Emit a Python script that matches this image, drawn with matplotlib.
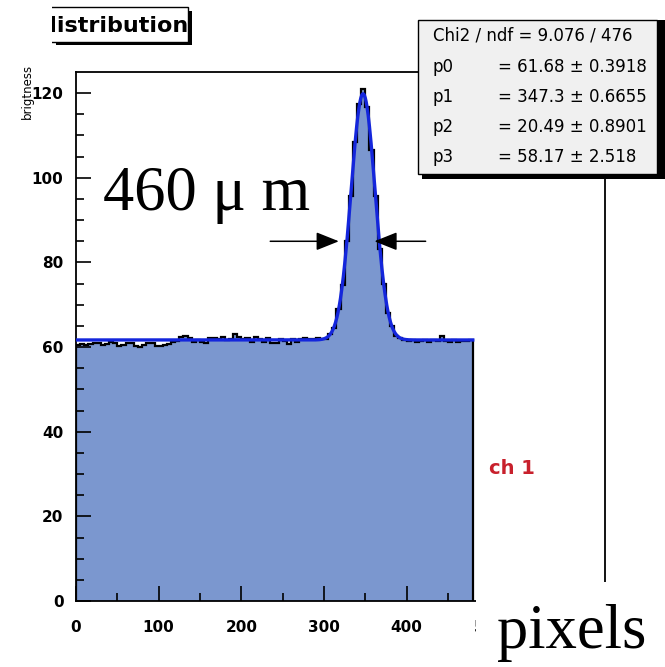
"""
ROOT-style brightness profile: histogram + flat-plus-gaussian fit, with overlay labels.
"""
import numpy as np
import matplotlib
matplotlib.use("Agg")
import matplotlib.pyplot as plt
from matplotlib.patches import Rectangle
from matplotlib.transforms import Bbox, TransformedBbox

# Canvas in pixels
W, H = 665, 667

def fx(px):
    return px / W

def fy(py):
    return 1 - py / H

# Histogram data (bin width 5, 0..480)
BIN_W = 5
hist_vals = [
    60.6, 60.8, 60.5, 60.7, 60.9, 61.0, 60.4, 60.8, 61.1, 60.9,
    60.2, 60.6, 60.9, 61.0, 60.3, 60.1, 60.4, 60.9, 61.0, 60.2,
    60.3, 60.5, 60.8, 61.1, 61.4, 62.4, 62.6, 62.2, 61.3, 61.6,
    61.2, 60.9, 62.1, 62.2, 62.0, 62.3, 61.7, 62.0, 63.1, 62.3,
    61.9, 62.2, 61.3, 62.3, 62.0, 61.2, 62.1, 61.0, 60.9, 62.0,
    61.4, 60.8, 62.0, 61.1, 61.9, 62.1, 62.0, 61.9, 62.2, 61.8,
    62.0, 63.2, 64.6, 69.1, 74.6, 85.0, 95.8, 108.4, 117.5, 121.0,
    116.8, 106.6, 95.6, 83.2, 74.9, 68.0, 64.9, 62.7, 62.2, 61.6,
    61.4, 61.6, 61.2, 61.5, 61.7, 61.3, 61.6, 61.4, 62.6, 61.5,
    61.3, 61.6, 61.2, 61.5, 61.4, 61.6,
]
edges = np.arange(len(hist_vals) + 1) * BIN_W

# Fit parameters from the stats box
fit_par = [61.68, 347.3, 20.49, 58.17]
fit_err = [0.3918, 0.6655, 0.8901, 2.518]
chi2_txt = "Chi2 / ndf = 9.076 / 476"

x_ticks = [0, 100, 200, 300, 400, 500]
y_ticks = [0, 20, 40, 60, 80, 100, 120]

fig = plt.figure(figsize=(W / 100, H / 100), dpi=100)
ax = fig.add_axes([fx(76), fy(601), (605 - 76) / W, (601 - 72) / H])

ax.stairs(hist_vals, edges, fill=True, color="#7b97cf", zorder=1)
ax.stairs(hist_vals, edges, color="black", lw=1.6, baseline=0, zorder=2)

xf = np.linspace(0, edges[-1], 961)
p0, p1, p2, p3 = fit_par
yf = p0 + p3 * np.exp(-((xf - p1) / p2) ** 2)
ax.plot(xf, yf, color="#1426dc", lw=2.4, zorder=3)

ax.set_xlim(0, 640)
ax.set_ylim(0, 125)
ax.set_xticks(x_ticks)
ax.set_yticks(y_ticks)
ax.set_xticks(np.arange(50, 640, 100), minor=True)
ax.set_yticks(np.arange(5, 125, 5), minor=True)
ax.tick_params(which="major", direction="in", length=11, width=1.2)
ax.tick_params(which="minor", direction="in", length=5.5, width=1.2)
ax.tick_params(axis="x", pad=14, labelsize=11)
ax.tick_params(axis="y", pad=9, labelsize=11)
for lbl in ax.get_xticklabels() + ax.get_yticklabels():
    lbl.set_fontweight("bold")
for s in ax.spines.values():
    s.set_linewidth(1.3)

# the "500" label is hidden under the pixels box except for its first digit
clip = TransformedBbox(Bbox.from_extents(0, 0, fx(476), 1), fig.transFigure)
lbl500 = ax.get_xticklabels()[-1]
lbl500.set_clip_on(True)
lbl500.set_clip_box(clip)

# FWHM arrows
arrow_kw = dict(arrowstyle="-|>,head_length=1.0,head_width=0.4", color="black",
                lw=1.1, mutation_scale=14, shrinkA=0, shrinkB=0)
ax.annotate("", xy=(318, 85), xytext=(235, 85), arrowprops=arrow_kw, annotation_clip=False)
ax.annotate("", xy=(361, 85), xytext=(423, 85), arrowprops=arrow_kw, annotation_clip=False)

# Title box (cropped at left)
fig.patches.append(Rectangle((fx(56), fy(45)), (192 - 56) / W, (45 - 11) / H,
                             transform=fig.transFigure, facecolor="black", zorder=4))
fig.patches.append(Rectangle((fx(40), fy(42)), (188 - 40) / W, (42 - 7) / H,
                             transform=fig.transFigure, facecolor="white",
                             edgecolor="black", lw=1.0, zorder=4))
fig.text(fx(41), fy(32), "distribution", fontsize=16, fontweight="bold",
         ha="left", va="baseline", zorder=5)
fig.patches.append(Rectangle((0, fy(50)), fx(52), 50 / H, transform=fig.transFigure,
                             facecolor="white", edgecolor="none", zorder=6))

# Stats box
fig.patches.append(Rectangle((fx(422), fy(179)), (662 - 422) / W, (179 - 24) / H,
                             transform=fig.transFigure, facecolor="black", zorder=4))
fig.patches.append(Rectangle((fx(418), fy(174)), (657 - 418) / W, (174 - 20) / H,
                             transform=fig.transFigure, facecolor="#f0f0f0",
                             edgecolor="black", lw=1.0, zorder=4))
box_clip = TransformedBbox(Bbox.from_extents(fx(418), fy(174), fx(657), fy(20)), fig.transFigure)
stat_texts = [fig.text(fx(433), fy(35), chi2_txt, fontsize=12, ha="left", va="center", zorder=5)]
for i, (v, e) in enumerate(zip(fit_par, fit_err)):
    yy = 67 + 30 * i
    stat_texts.append(fig.text(fx(433), fy(yy), f"p{i}", fontsize=12, ha="left", va="center", zorder=5))
    stat_texts.append(fig.text(fx(498), fy(yy), f"= {v:g} ± {e:g}", fontsize=12,
                               ha="left", va="center", zorder=5))
for t in stat_texts:
    t.set_clip_on(True)
    t.set_clip_box(box_clip)
fig.patches.append(Rectangle((fx(657), fy(179)), (665 - 657) / W, (179 - 20) / H,
                             transform=fig.transFigure, facecolor="black", zorder=5.5))

# axis title
fig.text(fx(27), fy(64), "brigtness", rotation=90, fontsize=8.5, ha="center", va="top")

fig.text(fx(489), fy(468), "ch 1", color="#c8202c", fontsize=14, fontweight="bold",
         ha="left", va="center")

# overlay labels
fig.text(fx(103), fy(210), "460 μ m", family="Liberation Serif", fontsize=45,
         ha="left", va="baseline", zorder=7)
fig.patches.append(Rectangle((fx(476), 0), (W - 476) / W, (H - 582) / H,
                             transform=fig.transFigure, facecolor="white", edgecolor="none", zorder=6))
fig.text(fx(497), fy(648), "pixels", family="Liberation Serif", fontsize=45,
         ha="left", va="baseline", zorder=7)

fig.savefig("out.png", dpi=100)
